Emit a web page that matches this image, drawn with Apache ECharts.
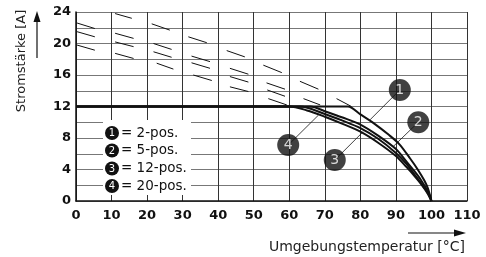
<!DOCTYPE html>
<html><head><meta charset="utf-8">
<script src="https://cdn.jsdelivr.net/npm/echarts@6/dist/echarts.min.js"></script>
<style>html,body{margin:0;padding:0;background:#fff}#c{width:486px;height:257px}</style>
</head><body><div id="c"></div>
<script>
// ---- data ----
const xTickValues = [0,10,20,30,40,50,60,70,80,90,100,110];
const yTickLabels = [0,4,8,12,16,20,24];
const curveNames = ['1','2','3','4'];
const legendLabels = ['= 2-pos.','= 5-pos.','= 12-pos.','= 20-pos.'];
const curve1 = [[0,12],[40,12],[76.5,12],[80,11.0],[84,9.8],[88,8.4],[91,7.2],[94,5.4],[96,4.1],[98,2.6],[99,1.6],[100,0]];
const curve2 = [[0,12],[40,12],[66,12],[70,11.4],[75,10.6],[80,9.7],[85,8.3],[90,6.6],[93,5.0],[95,3.9],[97,2.7],[99,1.2],[100,0]];
const curve3 = [[0,12],[40,12],[63,12],[70,11.05],[75,10.2],[80,9.25],[85,7.9],[90,6.1],[93,4.7],[95,3.5],[97,2.3],[99,1.0],[100,0]];
const curve4 = [[0,12],[40,12],[60,12],[65,11.5],[70,10.7],[75,9.8],[80,8.8],[85,7.4],[90,5.7],[93,4.3],[95,3.3],[97,2.2],[99,0.9],[100,0]];
const hatchMarks = [
  [0.3,22.6,5.3,21.9],[0.3,21.5,5.3,20.85],[0.3,19.8,5.3,19.15],
  [11,23.8,15.7,23.2],[11,21.3,16.2,20.65],[11,20.2,16.2,19.6],[11,18.75,16.2,18.1],
  [21.3,22.5,26.4,21.7],[21.8,20.0,26.9,19.25],[21.8,18.95,26.9,18.25],[22.7,17.5,27.4,16.75],
  [31.6,20.85,36.8,20.1],[32.5,18.4,37.7,17.7],[32.5,17.55,37.7,16.85],[33,16.0,38.2,15.3],
  [42.4,19.1,47.5,18.3],[43.3,16.85,48.5,16.1],[43.3,15.8,48.5,15.1],[43.3,14.5,48.5,13.9],
  [52.7,17.25,57.9,16.3],[53.6,15.0,58.8,14.2],[53.8,14.1,58.8,13.3],[54.1,13.0,59.3,12.2],
  [63,15.2,68.2,14.2],[64,13.0,68.7,12.2],
  [73.3,13.0,77.5,12.0]
];
const badgePoints = [[91.1,14.1],[96.3,10.0],[72.8,5.2],[59.7,7.1]];
const leaderEnds = [[82.7,10.3],[89.2,6.9],[80.8,8.8],[68.2,10.9]];

// ---- chart ----
const chart = echarts.init(document.getElementById('c'), null, {renderer:'canvas'});
const FONT = 'DejaVu Sans';
const curves = [curve1, curve2, curve3, curve4];
const series = [];
curves.forEach((c,i) => series.push({
  type:'line', data:c, smooth:0.3, symbol:'none', z:3,
  lineStyle:{color:'#111', width:2}
}));
series.push({
  type:'lines', coordinateSystem:'cartesian2d', z:2, silent:true,
  lineStyle:{color:'#111', width:1, opacity:1},
  data: hatchMarks.map(h => ({coords:[[h[0],h[1]],[h[2],h[3]]]}))
});
series.push({
  type:'lines', coordinateSystem:'cartesian2d', z:4, silent:true,
  lineStyle:{color:'#111', width:0.8, opacity:1},
  data: badgePoints.map((b,i) => ({coords:[b, leaderEnds[i]]}))
});
series.push({
  type:'scatter', z:5, symbolSize:22,
  itemStyle:{color:'#111'},
  label:{show:true, position:'inside', color:'#fff', fontFamily:FONT, fontSize:14,
    formatter: p => curveNames[p.dataIndex]},
  data: badgePoints
});

const legendGraphics = [{
  type:'rect', z:10, shape:{x:103, y:120, width:88, height:75}, style:{fill:'#fff'}
}];
const legendY = [133, 150.5, 168.5, 186];
legendLabels.forEach((t,i) => {
  legendGraphics.push({type:'circle', z:11, shape:{cx:112, cy:legendY[i], r:7}, style:{fill:'#111'}});
  legendGraphics.push({type:'text', z:12, x:112, y:legendY[i]+0.5,
    style:{text:curveNames[i], fill:'#fff', font:'10px '+FONT, textAlign:'center', textVerticalAlign:'middle'}});
  legendGraphics.push({type:'text', z:12, x:121, y:legendY[i],
    style:{text:t, fill:'#111', font:'13.5px '+FONT, textAlign:'left', textVerticalAlign:'middle'}});
});

const option = {
  animation:false,
  backgroundColor:'#fff',
  grid:{left:76, right:19, top:12, bottom:56},
  xAxis:{type:'value', min:0, max:110, interval:10,
    axisLine:{show:true, onZero:false, lineStyle:{color:'#111', width:1.5}},
    axisTick:{show:false},
    axisLabel:{margin:8, color:'#111', fontFamily:FONT, fontWeight:'bold', fontSize:13,
      formatter: v => xTickValues.includes(v) ? String(v) : ''},
    splitLine:{show:true, lineStyle:{color:'#333', width:1}}
  },
  yAxis:{type:'value', min:0, max:24, interval:2,
    axisLine:{show:true, onZero:false, lineStyle:{color:'#111', width:1.5}},
    axisTick:{show:false},
    axisLabel:{margin:5, color:'#111', fontFamily:FONT, fontWeight:'bold', fontSize:13,
      formatter: v => yTickLabels.includes(v) ? String(v) : ''},
    splitLine:{show:true, lineStyle:{color:'#777', width:1}}
  },
  series: series,
  graphic: legendGraphics.concat([
    {type:'text', x:22, y:61, rotation:Math.PI/2,
      style:{text:'Stromstärke [A]', fill:'#222', font:'13px '+FONT, textAlign:'center', textVerticalAlign:'middle'}},
    {type:'line', shape:{x1:37, y1:58, x2:37, y2:20}, style:{stroke:'#111', lineWidth:1.2}},
    {type:'polygon', shape:{points:[[37,11],[33.5,22],[40.5,22]]}, style:{fill:'#111'}},
    {type:'text', x:465, y:247,
      style:{text:'Umgebungstemperatur [°C]', fill:'#222', font:'14px '+FONT, textAlign:'right', textVerticalAlign:'middle'}},
    {type:'line', shape:{x1:408, y1:233, x2:456, y2:233}, style:{stroke:'#111', lineWidth:1.2}},
    {type:'polygon', shape:{points:[[466,233],[454,229.5],[454,236.5]]}, style:{fill:'#111'}}
  ])
};
chart.setOption(option);
</script></body></html>
